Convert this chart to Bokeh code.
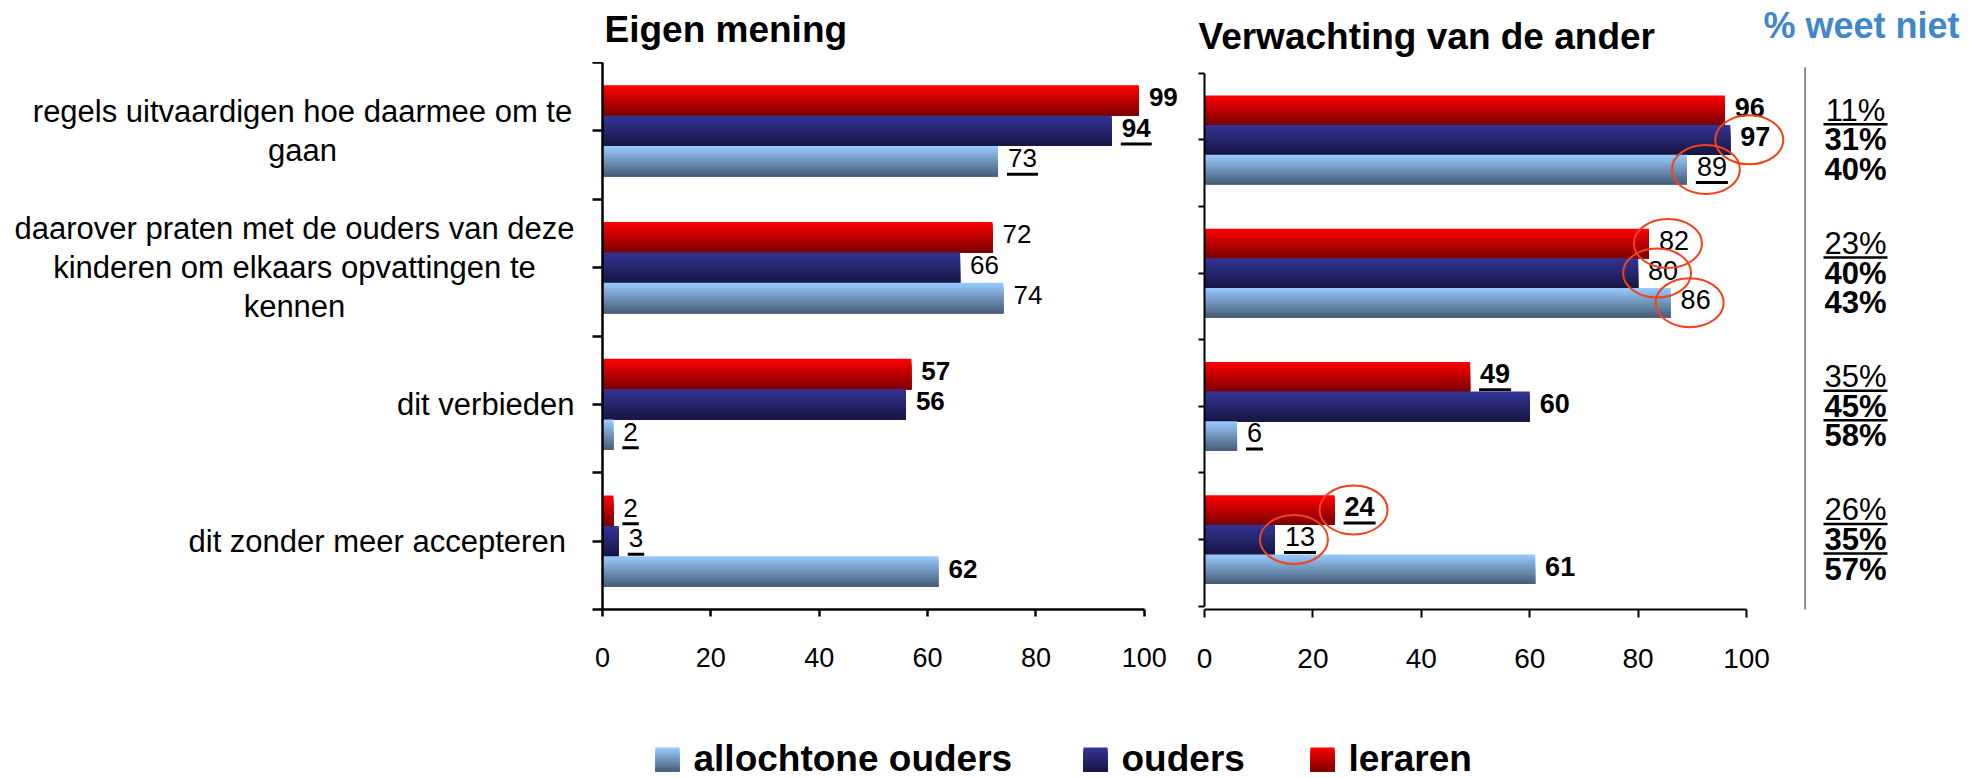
from bokeh.plotting import figure
from bokeh.layouts import row, column
from bokeh.models import Range1d, FixedTicker
from bokeh.embed import file_html
from bokeh.resources import INLINE
from bokeh.core.properties import value

# ---------------- data ----------------
categories = [
    "regels uitvaardigen hoe daarmee om te gaan",
    "daarover praten met de ouders van deze kinderen om elkaars opvattingen te kennen",
    "dit verbieden",
    "dit  zonder meer accepteren",
]
category_display = [
    "regels uitvaardigen hoe daarmee om te\ngaan",
    "daarover praten met de ouders van deze\nkinderen om elkaars opvattingen te\nkennen",
    "dit verbieden",
    "dit  zonder meer accepteren",
]
series_names = ["allochtone ouders", "ouders", "leraren"]

eigen_leraren = [99, 72, 57, 2]
eigen_ouders = [94, 66, 56, 3]
eigen_allochtoon = [73, 74, 2, 62]

verw_leraren = [96, 82, 49, 24]
verw_ouders = [97, 80, 60, 13]
verw_allochtoon = [89, 86, 6, 61]

weetniet_leraren = [11, 23, 35, 26]
weetniet_ouders = [31, 40, 45, 35]
weetniet_allochtoon = [40, 43, 58, 57]

x_ticks = [0, 20, 40, 60, 80, 100]

title_left = "Eigen mening"
title_right = "Verwachting van de ander"
title_weetniet = "% weet niet"

# ---------------- emphasis styles ----------------
eigen_bold = {"leraren": [1, 0, 1, 0], "ouders": [1, 0, 1, 0], "allochtoon": [0, 0, 0, 1]}
eigen_under = {"leraren": [0, 0, 0, 1], "ouders": [1, 0, 0, 1], "allochtoon": [1, 0, 1, 0]}
verw_bold = {"leraren": [1, 0, 1, 1], "ouders": [1, 0, 1, 0], "allochtoon": [0, 0, 0, 1]}
verw_under = {"leraren": [0, 0, 1, 1], "ouders": [0, 0, 0, 1], "allochtoon": [1, 0, 1, 0]}
verw_circle = {"leraren": [0, 1, 0, 1], "ouders": [1, 1, 0, 1], "allochtoon": [1, 1, 0, 0]}
weet_bold = {"leraren": [0, 0, 0, 0], "ouders": [1, 1, 1, 1], "allochtoon": [1, 1, 1, 1]}
weet_under = {"leraren": [1, 1, 1, 1], "ouders": [0, 0, 1, 1], "allochtoon": [0, 0, 0, 0]}

GRAD = {
    "leraren": ((255, 0, 0), (122, 0, 0)),
    "ouders": ((52, 52, 152), (22, 22, 66)),
    "allochtoon": ((153, 204, 255), (70, 92, 118)),
}
FONT = "Liberation Sans"
CIRCLE_COLOR = "#F2421B"
BLUE_TEXT = "#4287C8"
KEYS = ["leraren", "ouders", "allochtoon"]

# ---------------- geometry (page pixels) ----------------
PAGE_W, PAGE_H = 1971, 778
HEAD_H = 62            # 0 .. 62
ROW_H = 640            # 62 .. 702
LEG_H = PAGE_H - HEAD_H - ROW_H
ROW_TOP = HEAD_H
FRAME_BOTTOM_BORDER = 93
FRAME_TOP = ROW_TOP
FRAME_BOTTOM = ROW_TOP + ROW_H - FRAME_BOTTOM_BORDER
PPU_L = 5.418
PPU_R = 5.42
L_X0 = 602.0
R_X0 = 1204.0
R_AX_TOP, R_AX_BOT = 72.7, 605.7          # right panel axis extent
R_PPY = (R_AX_BOT - R_AX_TOP) / 4.0
L_PPY = (FRAME_BOTTOM - FRAME_TOP) / 4.0
N_STRIPS = 16
BAR_H = 2.0 / 9.0
cat_y = [3.5, 2.5, 1.5, 0.5]
offsets = {"leraren": BAR_H, "ouders": 0.0, "allochtoon": -BAR_H}


def lerp(c0, c1, t):
    return "#%02x%02x%02x" % tuple(int(round(a + (b - a) * t)) for a, b in zip(c0, c1))


def dxR(px):
    return (px - R_X0) / PPU_R


def dyR(py):
    return 4 - (py - R_AX_TOP) / R_PPY


def plain_fig(width, height, xr, yr, top=0, bottom=0):
    p = figure(width=width, height=height, x_range=xr, y_range=yr,
               output_backend="svg", toolbar_location=None, x_axis_type=None, y_axis_type=None,
               min_border_left=0, min_border_right=0, min_border_top=top, min_border_bottom=bottom)
    p.xgrid.visible = False
    p.ygrid.visible = False
    p.outline_line_color = None
    return p


def make_panel(width, frame_left, x_end, y_range):
    p = figure(width=width, height=ROW_H, x_range=Range1d(0, x_end), y_range=y_range,
               output_backend="svg", toolbar_location=None,
               min_border_left=frame_left, min_border_right=0,
               min_border_top=0, min_border_bottom=FRAME_BOTTOM_BORDER)
    p.xgrid.visible = False
    p.ygrid.visible = False
    p.outline_line_color = None
    return p


def style_axes(p, lw, xtick_out, ytick_out, xfs, standoff):
    xa = p.xaxis[0]
    xa.ticker = FixedTicker(ticks=x_ticks)
    xa.bounds = (0, 100)
    xa.axis_line_width = lw
    xa.axis_line_color = "black"
    xa.major_tick_line_width = lw
    xa.major_tick_out = xtick_out
    xa.major_tick_in = 0
    xa.minor_tick_line_color = None
    xa.major_label_text_font = FONT
    xa.major_label_text_font_size = xfs
    xa.major_label_text_color = "black"
    xa.major_label_standoff = standoff
    ya = p.yaxis[0]
    ya.ticker = FixedTicker(ticks=[], minor_ticks=[0, 0.5, 1, 1.5, 2, 2.5, 3, 3.5, 4])
    ya.bounds = (0, 4)
    ya.axis_line_width = lw
    ya.axis_line_color = "black"
    ya.minor_tick_line_width = lw
    ya.minor_tick_line_color = "black"
    ya.minor_tick_out = ytick_out
    ya.minor_tick_in = 0
    ya.major_label_standoff = 0


def draw_panel(p, vals, bold, under, fs, ppu, ppy, circle=None):
    for key in KEYS:
        v = vals[key]
        c0, c1 = GRAD[key]
        centers = [c + offsets[key] for c in cat_y]
        bottoms = [c - BAR_H / 2 for c in centers]
        for k in range(N_STRIPS):
            t = (k + 0.5) / N_STRIPS
            tops = [c + BAR_H / 2 - k * BAR_H / N_STRIPS for c in centers]
            p.hbar(y=[(a + b) / 2 for a, b in zip(tops, bottoms)], left=0, right=v,
                   height=[a - b for a, b in zip(tops, bottoms)],
                   fill_color=lerp(c0, c1, t), line_color=None)
    for is_bold in (0, 1):
        xs, ys, tx = [], [], []
        for key in KEYS:
            for i, val in enumerate(vals[key]):
                if bold[key][i] == is_bold:
                    xs.append(val)
                    ys.append(cat_y[i] + offsets[key])
                    tx.append(str(val))
        p.text(x=xs, y=ys, text=tx, x_offset=10, y_offset=-3, text_align="left",
               text_baseline="middle", text_font=value(FONT), text_font_size=fs,
               text_font_style="bold" if is_bold else "normal", text_color="black")
    fpx = float(fs.replace("px", ""))
    x0s, x1s, uy = [], [], []
    for key in KEYS:
        for i, val in enumerate(vals[key]):
            if under[key][i]:
                w = len(str(val)) * 0.556 * fpx
                x0s.append(val + 9.0 / ppu)
                x1s.append(val + (11.0 + w) / ppu)
                uy.append(cat_y[i] + offsets[key] - 13.0 / ppy)
    p.segment(x0=x0s, y0=uy, x1=x1s, y1=uy, line_color="black", line_width=3)
    if circle:
        cx, cy = [], []
        for key in KEYS:
            for i, val in enumerate(vals[key]):
                if circle[key][i]:
                    cx.append(val + 19.0 / ppu)
                    cy.append(cat_y[i] + offsets[key])
        p.ellipse(x=cx, y=cy, width=68, height=49, width_units="screen", height_units="screen",
                  fill_color=None, line_color=CIRCLE_COLOR, line_width=2)


# ---------------- header ----------------
pHead = plain_fig(PAGE_W, HEAD_H, Range1d(0, PAGE_W), Range1d(HEAD_H, 0))
pHead.text(x=[604], y=[28.9], text=[title_left], text_align="left", text_baseline="middle",
           text_font=value(FONT), text_font_size="37px", text_font_style="bold", text_color="black")
pHead.text(x=[1198], y=[35.5], text=[title_right], text_align="left", text_baseline="middle",
           text_font=value(FONT), text_font_size="37px", text_font_style="bold", text_color="black")
pHead.text(x=[1763], y=[24.5], text=[title_weetniet], text_align="left", text_baseline="middle",
           text_font=value(FONT), text_font_size="36px", text_font_style="bold", text_color=BLUE_TEXT)

# ---------------- left panel ----------------
CAT_W = 582
SPLIT = 1186
wL = SPLIT - CAT_W
L_BORDER = int(round(L_X0 - CAT_W))
yrL = Range1d(0, 4)
pL = make_panel(wL, L_BORDER, (wL - L_BORDER) / PPU_L, yrL)
style_axes(pL, 2.5, 7, 10, "27px", 31)
draw_panel(pL, {"leraren": eigen_leraren, "ouders": eigen_ouders, "allochtoon": eigen_allochtoon},
           eigen_bold, eigen_under, "26px", PPU_L, L_PPY)

# category labels, on the left panel's y scale
pCat = plain_fig(CAT_W, ROW_H, Range1d(0, CAT_W), yrL, top=0, bottom=FRAME_BOTTOM_BORDER)
label_center_px = [302, 294]
for i, lab in enumerate(category_display):
    if "\n" in lab:
        pCat.text(x=[label_center_px[i]], y=[cat_y[i]], text=[lab], text_align="center",
                  text_baseline="middle", text_font=value(FONT), text_font_size="31px",
                  text_line_height=1.12, text_color="black")
    else:
        pCat.text(x=[574], y=[cat_y[i]], text=[lab], text_align="right",
                  text_baseline="middle", text_font=value(FONT), text_font_size="31px",
                  text_color="black")

# ---------------- right panel (with the "% weet niet" column) ----------------
wR = PAGE_W - SPLIT
fr_left = int(round(R_X0 - SPLIT))
yrR = Range1d(dyR(FRAME_BOTTOM), dyR(FRAME_TOP))
pR = make_panel(wR, fr_left, (wR - fr_left) / PPU_R, yrR)
style_axes(pR, 2, 8, 6, "28px", 31)
draw_panel(pR, {"leraren": verw_leraren, "ouders": verw_ouders, "allochtoon": verw_allochtoon},
           verw_bold, verw_under, "27px", PPU_R, R_PPY, circle=verw_circle)

pR.segment(x0=[dxR(1804.6)], y0=[dyR(66.7)], x1=[dxR(1804.6)], y1=[dyR(616.7)],
           line_color="#8c8c8c", line_width=2)
weet = {"leraren": weetniet_leraren, "ouders": weetniet_ouders, "allochtoon": weetniet_allochtoon}
for is_bold in (0, 1):
    xs, ys, tx = [], [], []
    for key in KEYS:
        for i, val in enumerate(weet[key]):
            if weet_bold[key][i] == is_bold:
                xs.append(dxR(1855))
                ys.append(cat_y[i] + offsets[key])
                tx.append("%d%%" % val)
    pR.text(x=xs, y=ys, text=tx, text_align="center", text_baseline="middle",
            text_font=value(FONT), text_font_size="31px",
            text_font_style="bold" if is_bold else "normal", text_color="black")
ux0, ux1, uyy = [], [], []
for key in KEYS:
    for i, val in enumerate(weet[key]):
        if weet_under[key][i]:
            ux0.append(dxR(1823))
            ux1.append(dxR(1887))
            uyy.append(cat_y[i] + offsets[key] - 14.0 / R_PPY)
pR.segment(x0=ux0, y0=uyy, x1=ux1, y1=uyy, line_color="black", line_width=2.5)

# ---------------- legend ----------------
LEG_TOP = ROW_TOP + ROW_H
pLeg = plain_fig(PAGE_W, LEG_H, Range1d(0, PAGE_W), Range1d(LEG_TOP + LEG_H, LEG_TOP))
leg_keys = ["allochtoon", "ouders", "leraren"]
leg_swatch_px = [655, 1083, 1310]
sw_top = 747
sw_size = 24
for name, key, sx in zip(series_names, leg_keys, leg_swatch_px):
    c0, c1 = GRAD[key]
    for k in range(N_STRIPS):
        t = (k + 0.5) / N_STRIPS
        top = sw_top + k * sw_size / N_STRIPS
        pLeg.quad(left=[sx], right=[sx + sw_size], top=[top], bottom=[sw_top + sw_size],
                  fill_color=lerp(c0, c1, t), line_color=None)
    pLeg.text(x=[sx + sw_size + 14], y=[sw_top + sw_size / 2 - 1], text=[name], text_align="left",
              text_baseline="middle", text_font=value(FONT), text_font_size="37px",
              text_font_style="bold", text_color="black")

layout = column(pHead, row(pCat, pL, pR), pLeg)
open("out.html", "w").write(file_html(layout, INLINE))
